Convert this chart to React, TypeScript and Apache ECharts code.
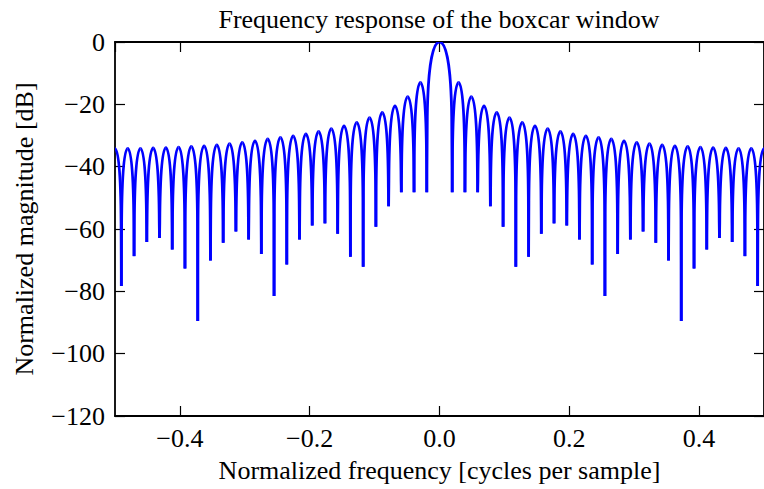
import React, { useEffect, useRef } from 'react';
import * as echarts from 'echarts';

const FONT = '"Liberation Serif", "Times New Roman", Times, serif';
const titleText = 'Frequency response of the boxcar window';
const xAxisName = 'Normalized frequency [cycles per sample]';
const yAxisName = 'Normalized magnitude [dB]';

// Alternating lobe peaks and nulls, from -0.5 to 0.5
const extremumFreq = [
  -0.5, -0.4902, -0.4804, -0.4706, -0.4608, -0.451, -0.4412, -0.4314, -0.4216, -0.4118,
  -0.402, -0.3922, -0.3824, -0.3725, -0.3627, -0.3529, -0.3431, -0.3333, -0.3235, -0.3137,
  -0.3039, -0.2941, -0.2843, -0.2745, -0.2647, -0.2549, -0.2451, -0.2353, -0.2255, -0.2157,
  -0.2059, -0.1961, -0.1863, -0.1765, -0.1667, -0.1569, -0.1471, -0.1373, -0.1275, -0.1176,
  -0.1078, -0.098, -0.0882, -0.0784, -0.0686, -0.0588, -0.049, -0.0392, -0.0294, -0.0196,
  0,
  0.0196, 0.0294, 0.0392, 0.049, 0.0588, 0.0686, 0.0784, 0.0882, 0.098, 0.1078,
  0.1176, 0.1275, 0.1373, 0.1471, 0.1569, 0.1667, 0.1765, 0.1863, 0.1961, 0.2059,
  0.2157, 0.2255, 0.2353, 0.2451, 0.2549, 0.2647, 0.2745, 0.2843, 0.2941, 0.3039,
  0.3137, 0.3235, 0.3333, 0.3431, 0.3529, 0.3627, 0.3725, 0.3824, 0.3922, 0.402,
  0.4118, 0.4216, 0.4314, 0.4412, 0.451, 0.4608, 0.4706, 0.4804, 0.4902, 0.5,
];
const extremumLevel = [
  -34.2, -78.3, -34.1, -68.7, -34.1, -64.2, -34.0, -62.9, -33.9, -66.6,
  -33.7, -72.7, -33.5, -89.5, -33.3, -70.1, -33.0, -64.4, -32.6, -60.8,
  -32.2, -63.4, -31.7, -68.0, -31.1, -81.5, -30.6, -71.4, -30.1, -63.4,
  -29.5, -58.9, -28.7, -58.2, -27.8, -61.5, -26.9, -68.9, -25.8, -72.1,
  -24.3, -59.3, -22.6, -52.7, -20.5, -48.2, -17.5, -48.2, -13.0, -48.2,
  0,
  -48.2, -13.0, -48.2, -17.5, -48.2, -20.5, -52.7, -22.6, -59.3, -24.3,
  -72.1, -25.8, -68.9, -26.9, -61.5, -27.8, -58.2, -28.7, -58.9, -29.5,
  -63.4, -30.1, -71.4, -30.6, -81.5, -31.1, -68.0, -31.7, -63.4, -32.2,
  -60.8, -32.6, -64.4, -33.0, -70.1, -33.3, -89.5, -33.5, -72.7, -33.7,
  -66.6, -33.9, -62.9, -34.0, -64.2, -34.1, -68.7, -34.1, -78.3, -34.2,
];

const fmt = (v: number, digits: number) =>
  (v < 0 ? '\u2212' : '') + Math.abs(v).toFixed(digits);

export default function App() {
  const ref = useRef<HTMLDivElement>(null);

  useEffect(() => {
    const chart = echarts.init(ref.current as HTMLDivElement, null, { renderer: 'svg' });

    const segments: number[][] = [];
    for (let i = 0; i < extremumFreq.length - 1; i++) {
      segments.push([extremumFreq[i], extremumLevel[i], extremumFreq[i + 1], extremumLevel[i + 1]]);
    }

    const renderItem = (_params: any, api: any) => {
      const f1 = api.value(0);
      const v1 = api.value(1);
      const f2 = api.value(2);
      const v2 = api.value(3);
      const peakFirst = v1 >= v2;
      const fp = peakFirst ? f1 : f2;
      const P = peakFirst ? v1 : v2;
      const fn = peakFirst ? f2 : f1;
      const D = peakFirst ? v2 : v1;
      const w = fn - fp;
      const n = api.coord([fn, D]);
      const a = api.coord([fn - 0.04 * w, Math.max(P - 24, D)]);
      const c1 = api.coord([fn - 0.09 * w, P - 7]);
      const c2 = api.coord([fn - 0.5 * w, P]);
      const pk = api.coord([fp, P]);
      const d = `M${n[0]},${n[1]}L${a[0]},${a[1]}C${c1[0]},${c1[1]} ${c2[0]},${c2[1]} ${pk[0]},${pk[1]}`;
      return {
        type: 'path',
        shape: { pathData: d },
        style: { stroke: '#0000ff', lineWidth: 2.8, fill: 'none' },
      };
    };

    const axisLine = { show: true, onZero: false, lineStyle: { color: '#000', width: 1.8 } };
    const axisTick = { show: true, inside: true, length: 10, lineStyle: { color: '#000', width: 1.2 } };
    const labelStyle = { color: '#000', fontFamily: FONT, fontSize: 26 };

    chart.setOption({
      animation: false,
      backgroundColor: '#fff',
      grid: { left: 115, top: 42, width: 652, height: 374, containLabel: false },
      graphic: [
        {
          type: 'text',
          x: 439,
          y: 19,
          style: {
            text: titleText,
            fontFamily: FONT,
            fontSize: 26,
            fill: '#000',
            align: 'center',
            verticalAlign: 'middle',
          },
        },
      ],
      xAxis: [
        {
          type: 'value',
          position: 'bottom',
          min: -0.5,
          max: 0.5,
          splitNumber: 5,
          axisLine,
          axisTick,
          splitLine: { show: false },
          axisLabel: {
            ...labelStyle,
            margin: 9,
            showMinLabel: false,
            showMaxLabel: false,
            formatter: (v: number) => fmt(v, 1),
          },
          name: xAxisName,
          nameLocation: 'middle',
          nameGap: 41,
          nameTextStyle: labelStyle,
        },
        {
          type: 'value',
          position: 'top',
          min: -0.5,
          max: 0.5,
          splitNumber: 5,
          axisLine,
          axisTick,
          splitLine: { show: false },
          axisLabel: { show: false },
        },
      ],
      yAxis: [
        {
          type: 'value',
          position: 'left',
          min: -120,
          max: 0,
          interval: 20,
          axisLine,
          axisTick,
          splitLine: { show: false },
          axisLabel: { ...labelStyle, margin: 10, formatter: (v: number) => fmt(v, 0) },
          name: yAxisName,
          nameLocation: 'middle',
          nameGap: 78,
          nameRotate: 90,
          nameTextStyle: labelStyle,
        },
        {
          type: 'value',
          position: 'right',
          min: -120,
          max: 0,
          interval: 20,
          axisLine,
          axisTick,
          splitLine: { show: false },
          axisLabel: { show: false },
        },
      ],
      series: [
        {
          type: 'custom',
          name: 'boxcar',
          xAxisIndex: 0,
          yAxisIndex: 0,
          clip: true,
          silent: true,
          renderItem,
          encode: { x: [0, 2], y: [1, 3] },
          data: segments,
        },
      ],
    });

    return () => chart.dispose();
  }, []);

  return (
    <div
      ref={ref}
      style={{ position: 'fixed', left: 0, top: 0, width: 764, height: 489, background: '#fff' }}
    />
  );
}
